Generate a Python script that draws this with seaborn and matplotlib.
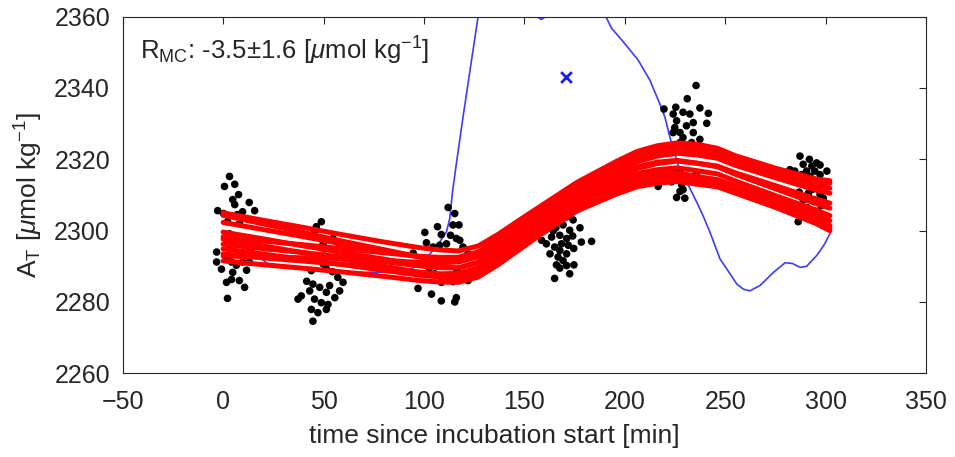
import pandas as pd
import seaborn as sns
import matplotlib.pyplot as plt

# %% data
# discrete A_T samples, one cluster per incubation sampling
c1_t = [3.2, 0.7, 5.8, 7.7, 4.8, 5.8, -2.7, 0.2, 13.0, 9.7, 15.7, 7.1, 8.1, 2.2, 3.2, 8.1, 11.6, 3.2,
        13.0, -3.2, -3.2, -0.8, 1.7, 4.2, 6.6, 9.7, 13.0, 14.0, 9.1, 4.8, 8.1, 1.7, 4.2, 10.7, 2.2, 11.7]
c1_at = [2315.2, 2312.4, 2313.0, 2310.1, 2308.7, 2307.3, 2305.6, 2304.8, 2307.9, 2305.3, 2305.6, 2304.5,
         2302.0, 2302.5, 2299.1, 2297.7, 2296.8, 2296.0, 2294.0, 2294.0, 2291.2, 2289.2, 2292.0, 2291.2,
         2290.3, 2291.2, 2291.2, 2293.4, 2293.4, 2288.3, 2286.0, 2285.5, 2286.3, 2284.1, 2281.0, 2288.9]

c2_t = [48.9, 46.4, 45.5, 54.7, 57.1, 49.8, 50.5, 49.8, 51.4, 43.9, 57.1, 59.7, 44.7, 48.1, 43.1, 51.4,
        58.0, 38.9, 45.5, 48.9, 52.2, 43.9, 47.2, 51.4, 44.7, 37.3, 53.0, 55.6, 41.6, 54.4, 47.5]
c2_at = [2302.5, 2301.1, 2299.7, 2297.8, 2296.8, 2296.3, 2294.9, 2290.7, 2289.3, 2288.8, 2286.9, 2285.5,
         2285.0, 2284.1, 2283.1, 2282.7, 2283.1, 2281.7, 2280.8, 2279.8, 2279.3, 2277.9, 2277.0, 2277.9,
         2274.6, 2280.8, 2284.6, 2281.2, 2285.8, 2288.5, 2292.5]

c3_t = [112.0, 115.3, 114.4, 117.4, 106.7, 100.4, 108.6, 113.2, 116.1, 117.8, 101.2, 119.4, 104.5, 107.8,
        111.2, 94.6, 121.9, 102.0, 106.2, 112.8, 118.6, 105.3, 112.0, 108.6, 114.4, 121.9, 97.0, 103.7,
        108.6, 115.3, 116.1, 109.5, 102.6, 116.4]
c3_at = [2306.5, 2304.8, 2301.6, 2301.6, 2301.1, 2299.5, 2298.9, 2298.7, 2297.8, 2297.3, 2296.6, 2295.4,
         2295.4, 2295.9, 2296.3, 2293.7, 2293.5, 2291.6, 2291.6, 2291.6, 2292.1, 2287.9, 2286.0, 2285.5,
         2285.7, 2286.0, 2283.8, 2282.2, 2280.3, 2280.0, 2281.2, 2290.0, 2289.5, 2289.0]

c4_t = [171.8, 171.0, 174.2, 160.9, 169.2, 177.6, 164.3, 172.5, 163.5, 167.6, 158.5, 171.0, 178.3, 183.4,
        160.9, 168.4, 165.0, 171.8, 167.6, 171.0, 166.7, 169.2, 165.9, 171.0, 174.6, 167.6, 172.5, 165.0,
        165.6, 174.0, 174.5, 162.7]
c4_at = [2305.8, 2303.9, 2303.0, 2301.6, 2301.6, 2300.8, 2299.9, 2300.1, 2298.2, 2298.7, 2297.3, 2297.8,
         2296.8, 2297.0, 2296.3, 2296.3, 2295.4, 2295.9, 2294.4, 2293.5, 2292.6, 2291.6, 2290.4, 2290.2,
         2290.4, 2289.5, 2287.9, 2286.6, 2300.8, 2298.5, 2295.0, 2293.5]

c5_t = [235.4, 231.0, 219.4, 225.3, 237.3, 241.5, 224.0, 228.9, 232.3, 225.7, 234.0, 240.7, 224.8, 230.6,
        227.4, 234.0, 224.0, 228.9, 237.3, 233.2, 227.4, 227.0, 219.9, 224.0, 227.4, 230.6, 234.0, 216.5,
        223.2, 228.2, 227.4, 225.7, 229.8, 228.9, 235.6]
c5_at = [2340.7, 2337.0, 2334.1, 2334.6, 2334.4, 2332.9, 2332.7, 2333.2, 2332.7, 2330.8, 2330.3, 2330.1,
         2328.9, 2329.4, 2327.5, 2327.5, 2327.5, 2326.1, 2325.6, 2324.7, 2324.7, 2322.3, 2316.7, 2316.7,
         2316.2, 2314.8, 2315.0, 2312.4, 2313.7, 2312.9, 2311.0, 2309.3, 2309.1, 2311.5, 2316.2]

c6_t = [287.1, 291.8, 295.4, 288.7, 293.0, 297.1, 282.1, 284.5, 290.4, 294.5, 300.5, 287.9, 292.1, 297.1,
        283.8, 293.8, 298.7, 289.6, 293.0, 296.2, 291.3, 297.1, 298.7, 288.7, 293.8, 286.2, 290.7, 294.6,
        286.7, 297.6]
c6_at = [2320.9, 2320.0, 2319.0, 2318.6, 2318.1, 2318.4, 2317.1, 2316.7, 2316.7, 2316.7, 2316.7, 2315.7,
         2315.2, 2315.7, 2313.8, 2313.8, 2313.3, 2312.9, 2311.5, 2311.5, 2310.5, 2310.1, 2309.1, 2308.6,
         2308.2, 2302.5, 2306.5, 2305.5, 2310.8, 2307.0]

# Monte Carlo fits (red)
fit_t = [0, 19, 39, 58, 78, 98, 108, 117, 127, 137, 147, 157, 176, 196, 206, 216, 226, 236, 246, 255, 275, 295, 302]
fit_a = [2291.5, 2290.5, 2289.5, 2288.5, 2287.3, 2286.0, 2285.6, 2285.5, 2287.0, 2290.5, 2294.5, 2298.5, 2305.5, 2310.3, 2312.3, 2313.3, 2313.8, 2313.0, 2312.3, 2310.5, 2306.5, 2302.0, 2300.0]
fit_b = [2293.5, 2292.4, 2291.5, 2290.6, 2289.4, 2288.3, 2287.9, 2288.0, 2289.5, 2293.0, 2297.0, 2300.9, 2307.9, 2312.9, 2314.9, 2315.9, 2316.2, 2315.2, 2314.2, 2312.1, 2307.8, 2303.3, 2301.4]
fit_c = [2296.2, 2295.0, 2293.9, 2292.7, 2291.4, 2290.1, 2289.6, 2289.6, 2291.2, 2294.8, 2298.7, 2302.5, 2309.5, 2314.9, 2317.4, 2318.8, 2319.5, 2318.9, 2318.1, 2316.2, 2312.6, 2308.9, 2307.7]
fit_d = [2299.6, 2297.8, 2295.8, 2294.0, 2292.2, 2290.3, 2289.7, 2289.5, 2290.9, 2294.1, 2297.9, 2301.7, 2308.7, 2313.8, 2316.0, 2317.1, 2317.6, 2316.8, 2315.9, 2313.9, 2309.8, 2305.8, 2304.2]
fit_e = [2302.3, 2300.4, 2298.4, 2296.4, 2294.4, 2292.6, 2292.0, 2291.7, 2293.1, 2296.5, 2300.3, 2304.1, 2311.1, 2316.7, 2319.3, 2320.9, 2321.7, 2321.2, 2320.3, 2318.3, 2314.8, 2311.4, 2310.5]
fit_f = [2298.3, 2297.1, 2296.1, 2295.0, 2293.9, 2292.8, 2292.5, 2292.5, 2294.1, 2297.7, 2301.6, 2305.5, 2312.7, 2318.6, 2321.2, 2322.8, 2323.6, 2323.1, 2322.2, 2320.2, 2316.8, 2313.9, 2313.3]
fit_g = [2304.3, 2302.0, 2299.6, 2297.2, 2294.9, 2292.6, 2291.8, 2291.3, 2292.7, 2295.8, 2299.6, 2303.3, 2310.3, 2315.6, 2317.9, 2319.2, 2319.7, 2318.9, 2317.9, 2315.8, 2311.7, 2307.6, 2306.3]
fit_h = [2294.9, 2293.5, 2292.0, 2290.6, 2289.0, 2287.5, 2287.0, 2286.8, 2288.3, 2291.8, 2295.8, 2299.7, 2306.7, 2311.8, 2314.0, 2315.1, 2315.7, 2315.0, 2314.3, 2312.5, 2308.7, 2304.5, 2302.8]
fit_i = [2305.0, 2303.0, 2301.0, 2299.0, 2297.0, 2295.2, 2294.6, 2294.3, 2295.7, 2299.0, 2302.8, 2306.5, 2313.5, 2319.5, 2322.2, 2323.8, 2324.6, 2324.2, 2323.1, 2321.0, 2317.5, 2314.5, 2314.0]
fit_j = [2297.6, 2295.8, 2293.9, 2292.1, 2290.2, 2288.3, 2287.6, 2287.3, 2288.7, 2292.0, 2295.9, 2299.8, 2306.6, 2311.4, 2313.4, 2314.4, 2314.8, 2313.9, 2313.0, 2311.1, 2307.1, 2302.6, 2300.7]
fit_k = [2292.9, 2292.6, 2292.4, 2292.2, 2291.7, 2291.1, 2291.0, 2291.2, 2292.8, 2296.6, 2300.7, 2304.7, 2311.9, 2317.8, 2320.4, 2322.0, 2322.8, 2322.4, 2321.4, 2319.4, 2315.9, 2312.6, 2311.9]

# sensor record (blue)
sensor_t = [11.1, 18.2, 23.2, 30.8, 38.6, 50.4, 71.1, 82.9, 92.8, 99.7, 104.5, 107.8, 111.2, 112.8, 114.2,
            116.4, 119.4, 123.3, 126.9, 130.2, 137.1, 146.9, 152.8, 155.3, 158.4, 161.2, 164.7, 176.5,
            186.3, 190.0, 193.3, 199.1, 206.6, 212.4, 217.3, 219.9, 222.4, 227.4, 232.3, 236.4, 239.0,
            242.2, 247.3, 252.3, 255.7, 258.9, 262.1, 267.2, 273.9, 279.7, 283.3, 287.2, 290.4, 295.4,
            299.1, 302.1]
sensor_at = [2297.0, 2292.6, 2290.2, 2289.5, 2289.3, 2288.8, 2288.3, 2288.4, 2289.0, 2291.3, 2294.5,
             2296.8, 2299.7, 2303.4, 2311.0, 2320.0, 2331.8, 2346.5, 2360.0, 2372.0, 2385.0, 2376.0,
             2364.0, 2360.3, 2359.2, 2360.3, 2366.0, 2382.0, 2370.0, 2360.6, 2356.8, 2353.0, 2347.8,
             2342.2, 2335.6, 2331.8, 2326.1, 2316.7, 2311.9, 2307.2, 2304.0, 2299.7, 2292.1, 2287.9,
             2285.0, 2283.6, 2283.1, 2284.6, 2288.3, 2291.0, 2290.8, 2289.7, 2290.0, 2293.0, 2296.0, 2299.2]

outlier_t = [170.6]
outlier_at = [2343.0]

# %% tables
samples = pd.DataFrame({
    't': c1_t + c2_t + c3_t + c4_t + c5_t + c6_t,
    'at': c1_at + c2_at + c3_at + c4_at + c5_at + c6_at,
})

fits = [fit_a, fit_b, fit_c, fit_d, fit_e, fit_f, fit_g, fit_h, fit_i, fit_j, fit_k]
mc = pd.concat([pd.DataFrame({'t': fit_t, 'at': f, 'run': i}) for i, f in enumerate(fits)])

sensor = pd.DataFrame({'t': sensor_t, 'at': sensor_at})

# %% style
sns.set_theme(style='white')
plt.rcParams['font.family'] = ['Liberation Sans', 'DejaVu Sans']
plt.rcParams['mathtext.fontset'] = 'custom'
plt.rcParams['mathtext.rm'] = 'Liberation Sans'
plt.rcParams['mathtext.it'] = 'Liberation Sans:italic'
plt.rcParams['mathtext.default'] = 'regular'

dark = '#262626'

fig = plt.figure(figsize=(9.55, 4.57), dpi=100)
ax = fig.add_axes([0.1284, 0.1832, 0.8416, 0.7803])

# %% plot
sns.lineplot(data=sensor, x='t', y='at', sort=False, color='#3b3bff', lw=1.2, ax=ax, zorder=1)
sns.scatterplot(data=samples, x='t', y='at', color='black', s=30, edgecolor='none', ax=ax, zorder=2)
sns.lineplot(data=mc, x='t', y='at', units='run', estimator=None, sort=False,
             color='red', lw=3.6, solid_joinstyle='round', ax=ax, zorder=3)
ax.scatter(outlier_t, outlier_at, marker='x', color='#1a1aff', s=60, linewidths=2, zorder=4)

ax.text(-41.3, 2350.3, r'R$_\mathregular{MC}$: -3.5±1.6 [$\mathit{\mu}$mol kg$^\mathregular{-1}$]',
        fontsize=18.5, va='center', ha='left', color=dark)

ax.set_xlim(-50, 350)
ax.set_ylim(2260, 2360)
ax.set_xticks(range(-50, 351, 50))
ax.set_yticks(range(2260, 2361, 20))
ax.set_xlabel('time since incubation start [min]', fontsize=19, color=dark, x=0.463, labelpad=7)
ax.set_ylabel(r'A$_\mathregular{T}$ [$\mathit{\mu}$mol kg$^\mathregular{-1}$]', fontsize=19, color=dark, labelpad=7)

ax.tick_params(direction='in', top=True, right=True, length=5, width=0.8,
               labelsize=18, colors=dark)
ax.tick_params(axis='x', pad=12)
ax.tick_params(axis='y', pad=9)
for s in ax.spines.values():
    s.set_visible(True)
    s.set_color(dark)
    s.set_linewidth(0.8)

fig.savefig('out.png', dpi=100)
